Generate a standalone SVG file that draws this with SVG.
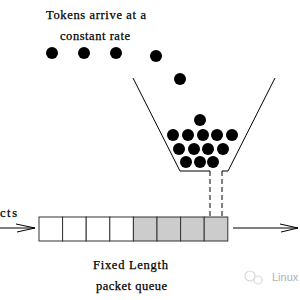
<svg xmlns="http://www.w3.org/2000/svg" width="300" height="300" viewBox="0 0 300 300">
<style>
text{font-family:"Liberation Serif","Times New Roman",serif;font-size:12.5px;fill:#000;stroke:#000;stroke-width:0.25}
.tok{fill:#000}
.ln{stroke:#000;stroke-width:1;fill:none}
.dash{stroke:#000;stroke-width:1;stroke-dasharray:5,3;fill:none}
.cw{fill:#fff;stroke:#333;stroke-width:1}
.cg{fill:#cccccc;stroke:#333;stroke-width:1}
</style>
<rect width="300" height="300" fill="#fff"/>
<g id="caption">
<text x="46" y="19" textLength="100" lengthAdjust="spacing">Tokens arrive at a</text>
<text x="60" y="40" textLength="70" lengthAdjust="spacing">constant rate</text>
</g>
<g id="arriving-tokens">
<circle class="tok" cx="52" cy="53" r="6"/>
<circle class="tok" cx="84" cy="53" r="6"/>
<circle class="tok" cx="116" cy="53" r="6"/>
<circle class="tok" cx="156" cy="56" r="6"/>
<circle class="tok" cx="180" cy="79" r="6"/>
</g>
<g id="bucket">
<polyline class="ln" points="133,78 180,171 210,171"/>
<polyline class="ln" points="275,78 228,171 222,171"/>
<circle class="tok" cx="200" cy="120" r="6"/>
<circle class="tok" cx="173" cy="135" r="6"/>
<circle class="tok" cx="188" cy="135" r="6"/>
<circle class="tok" cx="203" cy="135" r="6"/>
<circle class="tok" cx="217" cy="135" r="6"/>
<circle class="tok" cx="232" cy="135" r="6"/>
<circle class="tok" cx="179" cy="149" r="6"/>
<circle class="tok" cx="194" cy="149" r="6"/>
<circle class="tok" cx="208" cy="149" r="6"/>
<circle class="tok" cx="223" cy="149" r="6"/>
<circle class="tok" cx="186" cy="162" r="6"/>
<circle class="tok" cx="200" cy="162" r="6"/>
<circle class="tok" cx="213" cy="162" r="6"/>
</g>
<g id="connectors">
<line class="dash" x1="210" y1="171" x2="210" y2="217"/>
<line class="dash" x1="222" y1="171" x2="222" y2="217"/>
<line class="ln" x1="0" y1="228" x2="35" y2="228"/>
<polyline class="ln" points="16,224 35,228 17,232"/>
<line class="ln" x1="233" y1="228" x2="298" y2="228"/>
<polyline class="ln" points="280,224 298,228 281,232"/>
</g>
<g id="queue">
<rect class="cw" x="39" y="217" width="23.6" height="24"/>
<rect class="cw" x="62.6" y="217" width="23.6" height="24"/>
<rect class="cw" x="86.2" y="217" width="23.6" height="24"/>
<rect class="cw" x="109.8" y="217" width="23.6" height="24"/>
<rect class="cg" x="133.4" y="217" width="23.6" height="24"/>
<rect class="cg" x="157" y="217" width="23.6" height="24"/>
<rect class="cg" x="180.6" y="217" width="23.6" height="24"/>
<rect class="cg" x="204.2" y="217" width="23.6" height="24"/>
</g>
<g id="labels">
<text x="0" y="217" textLength="17" lengthAdjust="spacing">cts</text>
<text x="93" y="269" textLength="75" lengthAdjust="spacing">Fixed Length</text>
<text x="96" y="290" textLength="71" lengthAdjust="spacing">packet queue</text>
</g>
<g id="watermark">
<text x="272" y="281" style="font-family:'Liberation Sans',Arial,sans-serif;font-size:11px;fill:#b0b0b0;stroke:none">Linux</text>
<circle cx="250" cy="276" r="5" fill="none" stroke="#d8d8d8" stroke-width="1.2"/>
<circle cx="258" cy="280" r="4" fill="none" stroke="#d8d8d8" stroke-width="1.2"/>
</g>
</svg>
